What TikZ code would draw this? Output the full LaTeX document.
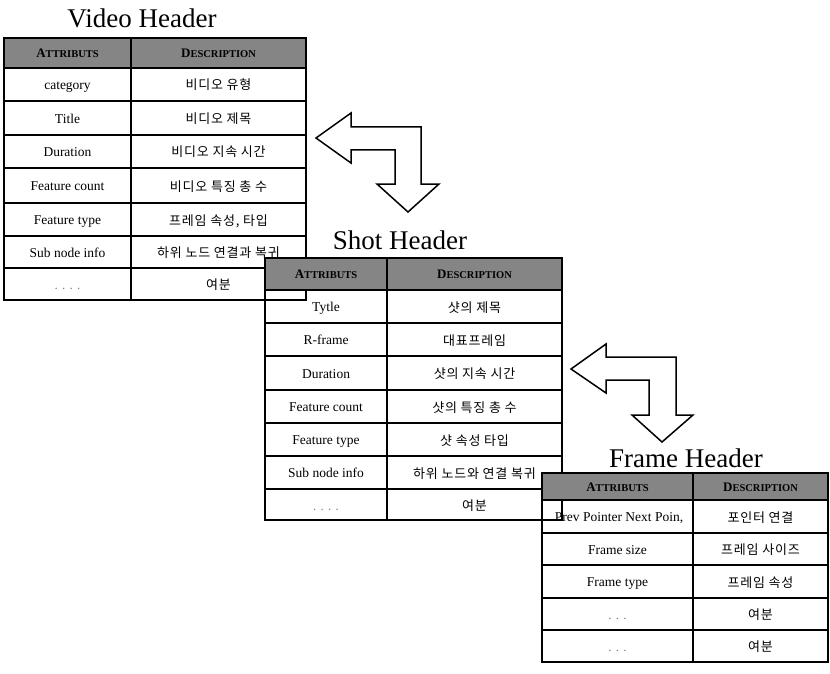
\documentclass[tikz,border=0pt]{standalone}
\usepackage{fontspec}
\setmainfont{Liberation Serif}
\newfontfamily\kr[LetterSpace=6]{Noto Sans CJK KR}
\newcommand\attrhead{{\bfseries\fontsize{13}{13}\selectfont A\fontsize{10.5}{11}\selectfont TTRIBUTS}}
\newcommand\deschead{{\bfseries\fontsize{13}{13}\selectfont D\fontsize{10.5}{11}\selectfont ESCRIPTION}}
\newcommand\trow[6]{\node[cell] (#1a) at (#2,#4) {#5}; \node[krcell] (#1b) at (#3,#4) {#6};}
\tikzset{
  tline/.style={line width=1.5pt},
  hdr/.style={fill=black!48, draw=black, line width=1.5pt},
  title/.style={font=\fontsize{27}{27}\selectfont, anchor=base, inner sep=0pt},
  cell/.style={font=\fontsize{13.5}{14}\selectfont, inner sep=0pt, text height=9.5pt, text depth=3pt, yshift=-2pt},
  krcell/.style={font=\kr\fontsize{13}{14}\selectfont, inner sep=0pt, text height=10pt, text depth=3pt, yshift=-2pt},
  hcell/.style={inner sep=0pt, text height=9pt, text depth=2pt, yshift=-1pt},
  dotcell/.style={font=\fontsize{13}{14}\selectfont, text=black!50, inner sep=0pt, text height=9.5pt, text depth=3pt, yshift=-2pt},
  blockarrow/.style={draw, fill=white, line width=1.5pt, line join=miter},
}
\begin{document}
\begin{tikzpicture}[x=1pt,y=-1pt]
\useasboundingbox (0,0) rectangle (830,674);
% ---------------- Video header table
\node[title] (vtitle) at (142,28) {Video Header};
\draw[hdr] (4,38) rectangle (306,68);
\draw[tline] (131,38) -- (131,68);
\draw[tline] (4,38) rectangle (306,300);
\draw[tline] (131,38) -- (131,300);
\foreach \y in {68,101,135,168,203,236,268} \draw[tline] (4,\y) -- (306,\y);
\node[hcell] (vh1) at (67.5,53) {\attrhead};
\node[hcell] (vh2) at (218.5,53) {\deschead};
\trow{v1}{67.5}{218.5}{84.5}{category}{비디오 유형}
\trow{v2}{67.5}{218.5}{118}{Title}{비디오 제목}
\trow{v3}{67.5}{218.5}{151.5}{Duration}{비디오 지속 시간}
\trow{v4}{67.5}{218.5}{185.5}{Feature count}{비디오 특징 총 수}
\trow{v5}{67.5}{218.5}{219.5}{Feature type}{프레임 속성, 타입}
\trow{v6}{67.5}{218.5}{252}{Sub node info}{하위 노드 연결과 복귀}
\node[dotcell] (v7a) at (67.5,284) {. . . .};
\node[krcell] (v7b) at (218.5,284) {여분};
% ---------------- Shot header table
\node[title] (stitle) at (400,249) {Shot Header};
\draw[tline] (265,290) rectangle (562,520);
\draw[tline] (387,290) -- (387,520);
\foreach \y in {323,356,390,423,456,489} \draw[tline] (265,\y) -- (562,\y);
\draw[hdr] (265,258) rectangle (562,290);
\draw[tline] (387,258) -- (387,290);
\node[hcell] (sh1) at (326,274) {\attrhead};
\node[hcell] (sh2) at (474.5,274) {\deschead};
\trow{s1}{326}{474.5}{306.5}{Tytle}{샷의 제목}
\trow{s2}{326}{474.5}{339.5}{R-frame}{대표프레임}
\trow{s3}{326}{474.5}{373}{Duration}{샷의 지속 시간}
\trow{s4}{326}{474.5}{406.5}{Feature count}{샷의 특징 총 수}
\trow{s5}{326}{474.5}{439.5}{Feature type}{샷 속성 타입}
\trow{s6}{326}{474.5}{472.5}{Sub node info}{하위 노드와 연결 복귀}
\node[dotcell] (s7a) at (326,505) {. . . .};
\node[krcell] (s7b) at (474.5,505) {여분};
% ---------------- Frame header table
\node[title] (ftitle) at (686,467) {Frame Header};
\draw[tline] (542,500) rectangle (828,662);
\draw[tline] (693,500) -- (693,662);
\foreach \y in {533,565,598,630} \draw[tline] (542,\y) -- (828,\y);
\draw[hdr] (542,473) rectangle (828,500);
\draw[tline] (693,473) -- (693,500);
\node[hcell] (fh1) at (617.5,487) {\attrhead};
\node[hcell] (fh2) at (760.5,487) {\deschead};
\trow{f1}{619}{760.5}{516.5}{Prev Pointer Next Poin,}{포인터 연결}
\trow{f2}{617.5}{760.5}{549}{Frame size}{프레임 사이즈}
\trow{f3}{617.5}{760.5}{581.5}{Frame type}{프레임 속성}
\node[dotcell] (f4a) at (617.5,614) {. . .};
\node[krcell] (f4b) at (760.5,614) {여분};
\node[dotcell] (f5a) at (617.5,646) {. . .};
\node[krcell] (f5b) at (760.5,646) {여분};
% ---------------- Block arrows
\draw[blockarrow] (316,138) -- (351,113) -- (351,127) -- (421,127) -- (421,184)
  -- (439,184) -- (408,212) -- (377,184) -- (395,184) -- (395,150)
  -- (351,150) -- (351,163) -- cycle;
\draw[blockarrow] (571,369) -- (606,344) -- (606,357) -- (676,357) -- (676,415)
  -- (693,415) -- (662,442) -- (632,415) -- (649,415) -- (649,380)
  -- (606,380) -- (606,393) -- cycle;
\end{tikzpicture}
\end{document}
